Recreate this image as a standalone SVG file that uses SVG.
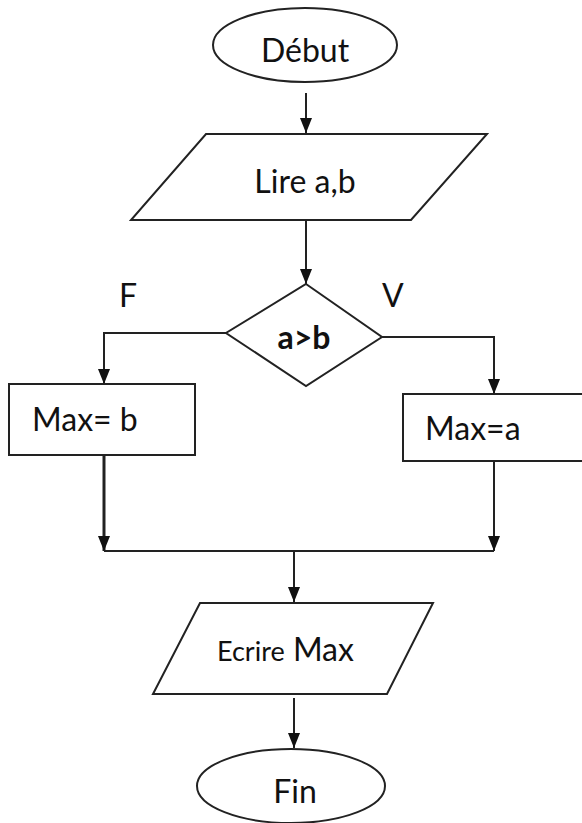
<svg xmlns="http://www.w3.org/2000/svg" width="582" height="823" viewBox="0 0 582 823">
<style>
.s{fill:#fff;stroke:#222;stroke-width:2}
.c{fill:none;stroke:#222;stroke-width:2}
.t{font-family:Lato,"Open Sans",sans-serif;fill:#111;font-size:32px}
</style>
<defs>
<marker id="ah" viewBox="0 0 15 12" refX="15" refY="6" markerWidth="15" markerHeight="12" markerUnits="userSpaceOnUse" orient="auto">
<path d="M0,0 L15,6 L0,12 Z" fill="#111"/>
</marker>
</defs>
<rect width="582" height="823" fill="#fff"/>
<g id="connectors">
<path class="c" d="M306,93 V133" marker-end="url(#ah)"/>
<path class="c" d="M306,220 V284" marker-end="url(#ah)"/>
<path class="c" d="M226,333 H104 V384" marker-end="url(#ah)"/>
<path class="c" d="M382,337 H494 V394" marker-end="url(#ah)"/>
<path class="c" d="M104,455 V551" style="stroke-width:3" marker-end="url(#ah)"/>
<path class="c" d="M494,462 V551" marker-end="url(#ah)"/>
<path class="c" d="M104,551 H494"/>
<path class="c" d="M294,551 V602" marker-end="url(#ah)"/>
<path class="c" d="M294,698 V748" marker-end="url(#ah)"/>
</g>
<g id="debut">
<ellipse class="s" cx="305" cy="45" rx="92" ry="37"/>
<text class="t" x="305" y="62" text-anchor="middle">Début</text>
</g>
<g id="lire">
<polygon class="s" points="206,134 487,134 411,220 131,220"/>
<text class="t" x="305" y="193" text-anchor="middle">Lire a,b</text>
</g>
<g id="labelF"><text class="t" x="119" y="307" font-size="29">F</text></g>
<g id="labelV"><text class="t" x="382" y="307" font-size="29">V</text></g>
<g id="decision">
<polygon class="s" points="306,284 382,337 306,386 226,333"/>
<text class="t" x="304" y="349" text-anchor="middle" font-size="27" font-weight="bold">a&gt;b</text>
</g>
<g id="maxb">
<rect class="s" x="9" y="384" width="186" height="71"/>
<text class="t" x="32" y="431">Max= b</text>
</g>
<g id="maxa">
<rect class="s" x="403" y="394" width="190" height="67"/>
<text class="t" x="425" y="440">Max=a</text>
</g>
<g id="ecrire">
<polygon class="s" points="200,603 433,603 387,694 153,694"/>
<text class="t" x="217" y="661"><tspan font-size="27">Ecrire</tspan> <tspan font-size="32">Max</tspan></text>
</g>
<g id="fin">
<ellipse class="s" cx="291" cy="786" rx="94" ry="37"/>
<text class="t" x="295" y="803" text-anchor="middle">Fin</text>
</g>
</svg>
